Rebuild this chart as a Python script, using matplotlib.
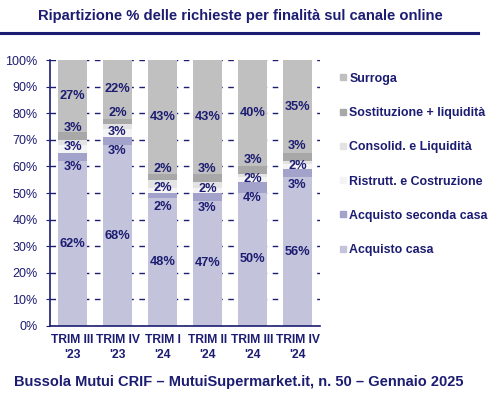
import numpy as np
import matplotlib
matplotlib.use('Agg')
import matplotlib.pyplot as plt
from matplotlib.lines import Line2D

plt.rcParams['font.family'] = ['Liberation Sans', 'DejaVu Sans']

NAVY = '#1c1c72'

categories = ["TRIM III\n'23", "TRIM IV\n'23", "TRIM I\n'24", "TRIM II\n'24", "TRIM III\n'24", "TRIM IV\n'24"]
acquisto_casa = [62, 68, 48, 47, 50, 56]
acquisto_seconda = [3, 3, 2, 3, 4, 3]
ristrutt = [3, 3, 2, 2, 2, 2]
consolid = [2, 2, 3, 2, 1, 1]
sostituzione = [3, 2, 2, 3, 3, 3]
surroga = [27, 22, 43, 43, 40, 35]

series = [
    ('Acquisto casa', acquisto_casa, '#c3c3dc', True),
    ('Acquisto seconda casa', acquisto_seconda, '#a2a2cb', True),
    ('Ristrutt. e Costruzione', ristrutt, '#f4f4f4', True),
    ('Consolid. e Liquidità', consolid, '#e3e3e3', False),
    ('Sostituzione + liquidità', sostituzione, '#a8a8a8', True),
    ('Surroga', surroga, '#c0c0c0', True),
]

fig = plt.figure(figsize=(5.0, 3.98), dpi=100)
ax = fig.add_axes([0.10, 0.181, 0.54, 0.668])

x = np.arange(len(categories))
bottom = np.zeros(len(categories))
labels = [[] for _ in categories]
for name, vals, col, show in series:
    vals = np.array(vals, dtype=float)
    ax.bar(x, vals, 0.64, bottom=bottom, color=col, zorder=2)
    if show:
        for i in range(len(x)):
            labels[i].append([bottom[i] + vals[i] / 2, vals[i]])
    bottom += vals

# spread out the small labels so they don't sit on top of each other
gap = 7.2
for i, labs in enumerate(labels):
    pos = [l[0] for l in labs]
    for _ in range(80):
        for j in range(1, len(pos)):
            d = pos[j] - pos[j - 1]
            if d < gap:
                s = (gap - d) / 2
                pos[j - 1] -= s
                pos[j] += s
    for (c, v), p in zip(labs, pos):
        ax.text(x[i], p, '%d%%' % v, ha='center', va='center', fontsize=9.2,
                fontweight='bold', color=NAVY, zorder=4)

ax.set_xlim(-0.5, len(x) - 0.5)
ax.set_ylim(0, 100)
ax.set_yticks(np.arange(0, 101, 10))
ax.set_yticklabels(['%d%%' % v for v in range(0, 101, 10)])
ax.yaxis.grid(True, linestyle=(0, (4, 4)), color=NAVY, linewidth=1.0, zorder=1)
ax.set_xticks(x)
ax.set_xticklabels(categories, fontsize=8.7, fontweight='bold', color=NAVY, linespacing=1.25)
ax.tick_params(axis='x', length=0, pad=6)
ax.tick_params(axis='y', length=3, direction='out', colors=NAVY, labelsize=9, pad=6)
for s in ['top', 'right']:
    ax.spines[s].set_visible(False)
for s in ['left', 'bottom']:
    ax.spines[s].set_color(NAVY)
    ax.spines[s].set_linewidth(1.2)

# legend, top to bottom
handles = [Line2D([], [], marker='s', linestyle='none', markersize=4.5,
                  markerfacecolor=col, markeredgecolor=col)
           for name, vals, col, show in series][::-1]
names = [s[0] for s in series][::-1]
leg = fig.legend(handles, names, loc='upper left', bbox_to_anchor=(0.652, 0.845),
                 frameon=False, handletextpad=0.0, labelspacing=1.8,
                 handlelength=1.0, prop={'weight': 'bold', 'size': 8.9})
for t in leg.get_texts():
    t.set_color(NAVY)

fig.text(0.48, 0.96, 'Ripartizione % delle richieste per finalità sul canale online',
         ha='center', va='center', fontsize=10.6, fontweight='bold', color=NAVY)
fig.add_artist(Line2D([0.0, 0.956], [0.917, 0.917], color=NAVY, linewidth=2.2))
fig.text(0.478, 0.04, 'Bussola Mutui CRIF – MutuiSupermarket.it, n. 50 – Gennaio 2025',
         ha='center', va='center', fontsize=10.5, fontweight='bold', color=NAVY)

fig.savefig('out.png', dpi=100)
